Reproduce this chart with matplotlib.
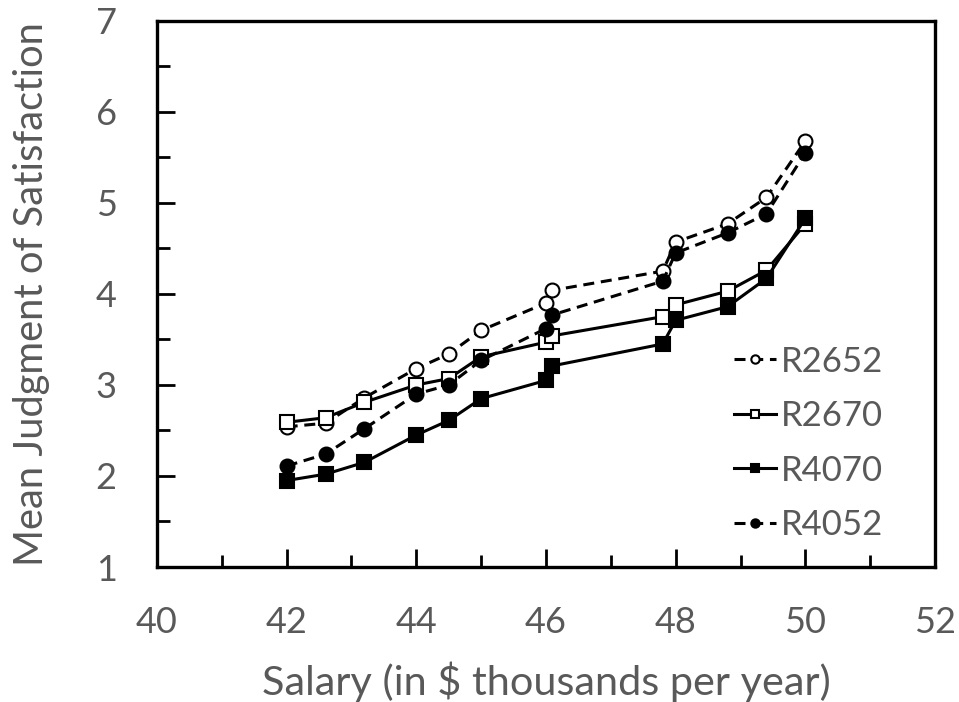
import matplotlib
matplotlib.use("Agg")
import matplotlib.pyplot as plt
from matplotlib.ticker import MultipleLocator

salary = [42.0, 42.6, 43.2, 44.0, 44.5, 45.0, 46.0, 46.1, 47.8, 48.0, 48.8, 49.4, 50.0]
r2652 = [2.54, 2.58, 2.86, 3.18, 3.34, 3.60, 3.90, 4.04, 4.25, 4.57, 4.77, 5.06, 5.68]
r2670 = [2.59, 2.64, 2.81, 3.00, 3.07, 3.31, 3.47, 3.54, 3.75, 3.88, 4.03, 4.26, 4.77]
r4070 = [1.95, 2.02, 2.15, 2.45, 2.61, 2.85, 3.05, 3.21, 3.45, 3.71, 3.86, 4.17, 4.83]
r4052 = [2.11, 2.24, 2.52, 2.90, 3.00, 3.27, 3.62, 3.77, 4.14, 4.45, 4.67, 4.88, 5.55]

plt.rcParams['font.family'] = ['Lato', 'DejaVu Sans']
gray = '#595959'

fig = plt.figure(figsize=(9.59, 7.02), dpi=100)
ax = fig.add_axes([0.1637, 0.1923, 0.8113, 0.778])

lw = 2.2
dash = (3.6, 2.2)
ms = 10
ax.plot(salary, r2652, color='black', lw=lw, dashes=dash, marker='o', ms=ms,
        mfc='white', mec='black', mew=1.5, label='R2652')
ax.plot(salary, r2670, color='black', lw=lw, marker='s', ms=ms,
        mfc='white', mec='black', mew=1.5, label='R2670')
ax.plot(salary, r4070, color='black', lw=lw, marker='s', ms=ms,
        mfc='black', mec='black', mew=1.5, label='R4070')
ax.plot(salary, r4052, color='black', lw=lw, dashes=dash, marker='o', ms=ms,
        mfc='black', mec='black', mew=1.5, label='R4052')

ax.set_xlim(40, 52)
ax.set_ylim(1, 7)
ax.xaxis.set_major_locator(MultipleLocator(2))
ax.xaxis.set_minor_locator(MultipleLocator(1))
ax.yaxis.set_major_locator(MultipleLocator(1))
ax.yaxis.set_minor_locator(MultipleLocator(0.5))
ax.tick_params(which='both', direction='in', width=2, color='black',
               labelsize=26, labelcolor=gray)
ax.tick_params(which='major', length=13)
ax.tick_params(which='minor', length=9)
ax.tick_params(axis='x', which='major', pad=28)
ax.tick_params(axis='y', which='major', pad=29)
for s in ax.spines.values():
    s.set_linewidth(2.4)

ax.set_xlabel('Salary (in $ thousands per year)', fontsize=29.8, color=gray, labelpad=16)
ax.set_ylabel('Mean Judgment of Satisfaction', fontsize=28.7, color=gray, labelpad=33)

leg = ax.legend(loc='lower right', bbox_to_anchor=(0.974, -0.01), frameon=False,
                fontsize=25, markerscale=0.6, handlelength=1.2, handletextpad=0.15,
                labelspacing=0.65, labelcolor=gray)

fig.savefig('out.png', dpi=100)
